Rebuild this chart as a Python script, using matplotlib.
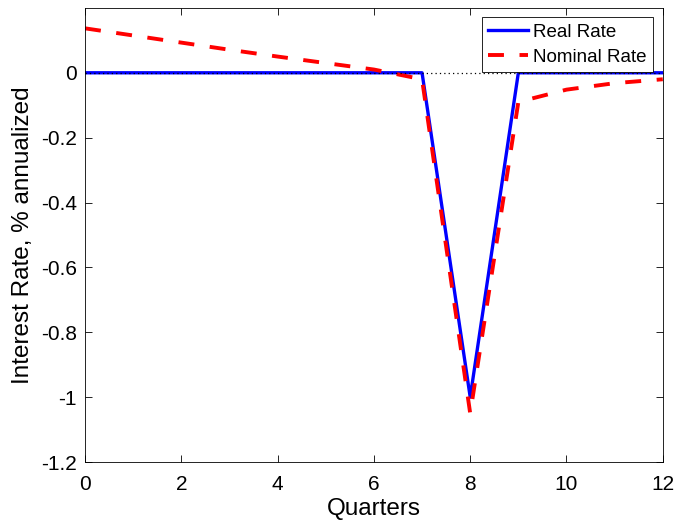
import matplotlib
matplotlib.use('Agg')
import matplotlib.pyplot as plt

plt.rcParams['font.family'] = ['Liberation Sans', 'DejaVu Sans']
plt.rcParams['axes.unicode_minus'] = False

# Data
quarters = [0, 1, 2, 3, 4, 5, 6, 7, 8, 9, 10, 11, 12]
real_rate = [0, 0, 0, 0, 0, 0, 0, 0, -1.0, 0, 0, 0, 0]
nominal_rate = [0.137, 0.115, 0.093, 0.071, 0.05, 0.03, 0.01, -0.02,
                -1.05, -0.09, -0.052, -0.032, -0.02]
yticks = [-1.2, -1.0, -0.8, -0.6, -0.4, -0.2, 0]
ytick_labels = ['-1.2', '-1', '-0.8', '-0.6', '-0.4', '-0.2', '0']
xticks = [0, 2, 4, 6, 8, 10, 12]

fig = plt.figure(figsize=(6.77, 5.27), dpi=100)
ax = fig.add_axes([0.1256, 0.1233, 0.8534, 0.8617])

ax.plot(quarters, real_rate, color='blue', lw=2.4, label='Real Rate')
ax.plot(quarters, nominal_rate, color='red', lw=2.8, dashes=(4.1, 4.0),
        label='Nominal Rate')
ax.plot([0, 12], [0, 0], color='black', lw=0.9, dashes=(1, 2.5))

ax.set_xlim(0, 12)
ax.set_ylim(-1.2, 0.2)
ax.set_xticks(xticks)
ax.set_yticks(yticks)
ax.set_yticklabels(ytick_labels)
ax.tick_params(direction='in', top=True, right=True, labelsize=15,
               length=5, width=0.6)
ax.tick_params(axis='x', pad=9)
ax.tick_params(axis='y', pad=6)
for s in ax.spines.values():
    s.set_linewidth(0.6)

ax.set_xlabel('Quarters', fontsize=17.5, labelpad=3)
ax.set_ylabel('Interest Rate, % annualized', fontsize=17.5, labelpad=5)

leg = ax.legend(loc='upper right', fontsize=13.5, fancybox=False,
                edgecolor='black', framealpha=1, borderpad=0.35,
                handlelength=2.1, handletextpad=0.3, labelspacing=0.4,
                borderaxespad=0.5)
leg.get_frame().set_linewidth(0.6)

fig.savefig('out.png', dpi=100)
